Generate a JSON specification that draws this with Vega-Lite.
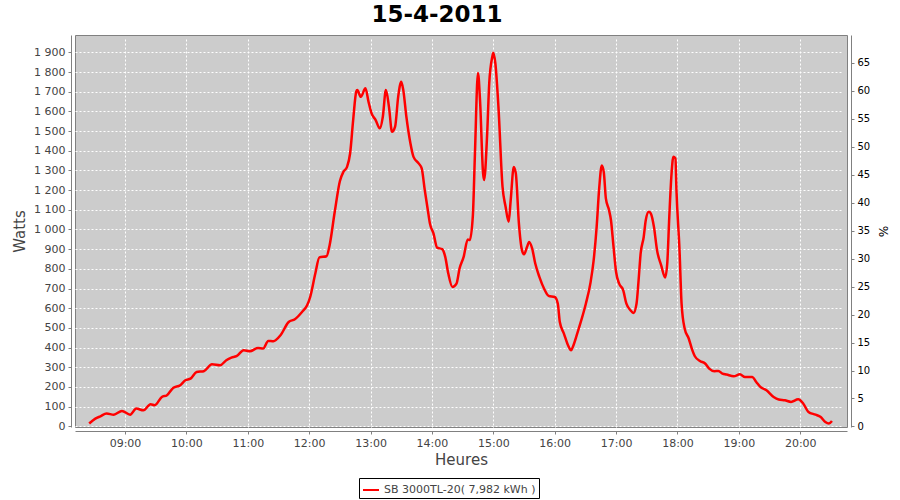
{
  "$schema": "https://vega.github.io/schema/vega-lite/v6.json",
  "width": 772,
  "height": 392,
  "autosize": "none",
  "padding": {"left": 75, "top": 35, "right": 53, "bottom": 73},
  "background": "#FFFFFF",
  "title": {"text": "15-4-2011", "fontSize": 23, "fontWeight": "bold", "color": "#000000", "font": "DejaVu Sans", "anchor": "middle", "offset": 5, "dx": -24},
  "config": {
    "font": "DejaVu Sans",
    "locale": {"number": {"decimal": ",", "thousands": " ", "grouping": [3], "currency": ["", " €"]}},
    "view": {"fill": "#CCCCCC", "stroke": "#808080", "strokeWidth": 1},
    "axis": {
      "domainColor": "#808080", "tickColor": "#808080", "labelColor": "#444444",
      "labelFontSize": 11, "titleFontSize": 15, "titleFontWeight": "normal", "titleColor": "#444444",
      "gridColor": "#FFFFFF", "gridDash": [2, 2], "gridWidth": 1, "gridOpacity": 1,
      "offset": 4, "tickSize": 3, "labelPadding": 3
    }
  },
  "layer": [
    {
      "data": {"values": [
        {"t":"2011-04-15T08:25","w":14},{"t":"2011-04-15T08:31","w":39},{"t":"2011-04-15T08:36","w":51},{"t":"2011-04-15T08:42","w":65},{"t":"2011-04-15T08:49","w":59},{"t":"2011-04-15T08:57","w":78},{"t":"2011-04-15T09:05","w":59},{"t":"2011-04-15T09:11","w":90},{"t":"2011-04-15T09:18","w":81},{"t":"2011-04-15T09:25","w":112},{"t":"2011-04-15T09:29","w":107},{"t":"2011-04-15T09:36","w":149},{"t":"2011-04-15T09:41","w":158},{"t":"2011-04-15T09:47","w":195},{"t":"2011-04-15T09:54","w":209},{"t":"2011-04-15T09:59","w":234},{"t":"2011-04-15T10:04","w":242},{"t":"2011-04-15T10:10","w":276},{"t":"2011-04-15T10:17","w":280},{"t":"2011-04-15T10:25","w":315},{"t":"2011-04-15T10:33","w":310},{"t":"2011-04-15T10:39","w":336},{"t":"2011-04-15T10:44","w":349},{"t":"2011-04-15T10:49","w":356},{"t":"2011-04-15T10:56","w":386},{"t":"2011-04-15T11:02","w":381},{"t":"2011-04-15T11:10","w":398},{"t":"2011-04-15T11:15","w":395},{"t":"2011-04-15T11:20","w":434},{"t":"2011-04-15T11:25","w":432},{"t":"2011-04-15T11:32","w":463},{"t":"2011-04-15T11:40","w":530},{"t":"2011-04-15T11:46","w":544},{"t":"2011-04-15T11:53","w":581},{"t":"2011-04-15T11:58","w":615},{"t":"2011-04-15T12:01","w":657},{"t":"2011-04-15T12:06","w":776},{"t":"2011-04-15T12:10","w":858},{"t":"2011-04-15T12:17","w":864},{"t":"2011-04-15T12:20","w":920},{"t":"2011-04-15T12:25","w":1090},{"t":"2011-04-15T12:30","w":1245},{"t":"2011-04-15T12:33:30","w":1293},{"t":"2011-04-15T12:37","w":1318},{"t":"2011-04-15T12:40","w":1386},{"t":"2011-04-15T12:43","w":1556},{"t":"2011-04-15T12:46","w":1700},{"t":"2011-04-15T12:47","w":1708},{"t":"2011-04-15T12:50:30","w":1674},{"t":"2011-04-15T12:55","w":1717},{"t":"2011-04-15T12:58","w":1649},{"t":"2011-04-15T13:01","w":1590},{"t":"2011-04-15T13:05","w":1556},{"t":"2011-04-15T13:09","w":1514},{"t":"2011-04-15T13:12","w":1573},{"t":"2011-04-15T13:15","w":1708},{"t":"2011-04-15T13:18","w":1623},{"t":"2011-04-15T13:21","w":1496},{"t":"2011-04-15T13:24","w":1522},{"t":"2011-04-15T13:27","w":1674},{"t":"2011-04-15T13:30","w":1750},{"t":"2011-04-15T13:32","w":1708},{"t":"2011-04-15T13:35","w":1573},{"t":"2011-04-15T13:39","w":1437},{"t":"2011-04-15T13:42","w":1369},{"t":"2011-04-15T13:47","w":1336},{"t":"2011-04-15T13:50","w":1310},{"t":"2011-04-15T13:53","w":1200},{"t":"2011-04-15T13:56","w":1098},{"t":"2011-04-15T13:58","w":1031},{"t":"2011-04-15T14:01:30","w":980},{"t":"2011-04-15T14:05","w":908},{"t":"2011-04-15T14:10","w":900},{"t":"2011-04-15T14:13","w":861},{"t":"2011-04-15T14:16","w":776},{"t":"2011-04-15T14:20","w":708},{"t":"2011-04-15T14:24","w":725},{"t":"2011-04-15T14:27","w":802},{"t":"2011-04-15T14:31","w":861},{"t":"2011-04-15T14:35","w":949},{"t":"2011-04-15T14:37","w":946},{"t":"2011-04-15T14:40","w":1070},{"t":"2011-04-15T14:42","w":1380},{"t":"2011-04-15T14:45","w":1795},{"t":"2011-04-15T14:47","w":1657},{"t":"2011-04-15T14:50","w":1285},{"t":"2011-04-15T14:51","w":1251},{"t":"2011-04-15T14:54","w":1488},{"t":"2011-04-15T14:56","w":1742},{"t":"2011-04-15T14:59","w":1877},{"t":"2011-04-15T15:00","w":1898},{"t":"2011-04-15T15:02","w":1844},{"t":"2011-04-15T15:05","w":1623},{"t":"2011-04-15T15:09","w":1217},{"t":"2011-04-15T15:12","w":1115},{"t":"2011-04-15T15:15","w":1039},{"t":"2011-04-15T15:17","w":1149},{"t":"2011-04-15T15:20","w":1318},{"t":"2011-04-15T15:22","w":1285},{"t":"2011-04-15T15:25","w":1031},{"t":"2011-04-15T15:28","w":895},{"t":"2011-04-15T15:30","w":874},{"t":"2011-04-15T15:33","w":912},{"t":"2011-04-15T15:35","w":937},{"t":"2011-04-15T15:38","w":903},{"t":"2011-04-15T15:41","w":827},{"t":"2011-04-15T15:45","w":759},{"t":"2011-04-15T15:50","w":695},{"t":"2011-04-15T15:54","w":663},{"t":"2011-04-15T16:00","w":657},{"t":"2011-04-15T16:03","w":624},{"t":"2011-04-15T16:05","w":530},{"t":"2011-04-15T16:09","w":471},{"t":"2011-04-15T16:13","w":412},{"t":"2011-04-15T16:16","w":386},{"t":"2011-04-15T16:18","w":407},{"t":"2011-04-15T16:22","w":471},{"t":"2011-04-15T16:26","w":539},{"t":"2011-04-15T16:30:30","w":624},{"t":"2011-04-15T16:35","w":730},{"t":"2011-04-15T16:38","w":840},{"t":"2011-04-15T16:41","w":1013},{"t":"2011-04-15T16:43:30","w":1210},{"t":"2011-04-15T16:46","w":1325},{"t":"2011-04-15T16:48","w":1290},{"t":"2011-04-15T16:50","w":1158},{"t":"2011-04-15T16:53","w":1100},{"t":"2011-04-15T16:55","w":1047},{"t":"2011-04-15T16:57:30","w":912},{"t":"2011-04-15T17:00","w":784},{"t":"2011-04-15T17:03","w":725},{"t":"2011-04-15T17:07","w":691},{"t":"2011-04-15T17:10","w":624},{"t":"2011-04-15T17:14","w":590},{"t":"2011-04-15T17:17","w":576},{"t":"2011-04-15T17:20","w":624},{"t":"2011-04-15T17:22","w":742},{"t":"2011-04-15T17:24","w":878},{"t":"2011-04-15T17:27","w":962},{"t":"2011-04-15T17:29","w":1047},{"t":"2011-04-15T17:32","w":1090},{"t":"2011-04-15T17:34","w":1081},{"t":"2011-04-15T17:37","w":1013},{"t":"2011-04-15T17:40","w":895},{"t":"2011-04-15T17:44","w":819},{"t":"2011-04-15T17:48","w":756},{"t":"2011-04-15T17:50","w":827},{"t":"2011-04-15T17:52","w":1064},{"t":"2011-04-15T17:54","w":1268},{"t":"2011-04-15T17:56","w":1369},{"t":"2011-04-15T17:58","w":1361},{"t":"2011-04-15T17:59","w":1200},{"t":"2011-04-15T18:02","w":895},{"t":"2011-04-15T18:04","w":624},{"t":"2011-04-15T18:07","w":497},{"t":"2011-04-15T18:11","w":446},{"t":"2011-04-15T18:14","w":395},{"t":"2011-04-15T18:17","w":356},{"t":"2011-04-15T18:22","w":332},{"t":"2011-04-15T18:27","w":319},{"t":"2011-04-15T18:31","w":293},{"t":"2011-04-15T18:36","w":280},{"t":"2011-04-15T18:40","w":281},{"t":"2011-04-15T18:44","w":268},{"t":"2011-04-15T18:48","w":263},{"t":"2011-04-15T18:55","w":254},{"t":"2011-04-15T19:01","w":264},{"t":"2011-04-15T19:06","w":251},{"t":"2011-04-15T19:13","w":251},{"t":"2011-04-15T19:17","w":225},{"t":"2011-04-15T19:21","w":200},{"t":"2011-04-15T19:27","w":183},{"t":"2011-04-15T19:34","w":149},{"t":"2011-04-15T19:39","w":136},{"t":"2011-04-15T19:45","w":132},{"t":"2011-04-15T19:51","w":124},{"t":"2011-04-15T19:58","w":137},{"t":"2011-04-15T20:03","w":115},{"t":"2011-04-15T20:08","w":73},{"t":"2011-04-15T20:15","w":59},{"t":"2011-04-15T20:20","w":47},{"t":"2011-04-15T20:24:30","w":22},{"t":"2011-04-15T20:28","w":14},{"t":"2011-04-15T20:31","w":27}
      ]},
      "mark": {"type": "line", "strokeWidth": 2.5, "interpolate": "monotone"},
      "encoding": {
        "x": {
          "field": "t", "type": "temporal",
          "scale": {"domain": ["2011-04-15T08:11:07", "2011-04-15T20:45:42"]},
          "axis": {"title": "Heures", "format": "%H:%M", "tickCount": 12, "labelFlush": false, "labelOverlap": false, "titlePadding": 4}
        },
        "y": {
          "field": "w", "type": "quantitative",
          "scale": {"domain": [-3.5, 1988], "nice": false, "zero": false},
          "axis": {"title": "Watts", "values": [0,100,200,300,400,500,600,700,800,900,1000,1100,1200,1300,1400,1500,1600,1700,1800,1900], "format": ",d", "titlePadding": 6}
        },
        "color": {
          "datum": "SB 3000TL-20( 7,982 kWh )",
          "type": "nominal",
          "scale": {"range": ["#FF0000"]},
          "legend": {
            "title": null, "orient": "none", "legendX": 284, "legendY": 443, "direction": "horizontal",
            "strokeColor": "#000000", "padding": 3, "symbolType": "stroke", "symbolSize": 256, "symbolStrokeWidth": 2,
            "labelFontSize": 11, "labelColor": "#444444", "labelOffset": 4, "fillColor": "#FFFFFF"
          }
        }
      }
    },
    {
      "data": {"values": [{"p": 0}, {"p": 70}]},
      "mark": {"type": "point", "opacity": 0},
      "encoding": {
        "y": {
          "field": "p", "type": "quantitative",
          "scale": {"domain": [-0.1, 70], "nice": false, "zero": false},
          "axis": {"orient": "right", "title": "%", "grid": false, "values": [0,5,10,15,20,25,30,35,40,45,50,55,60,65], "labelFontSize": 10, "labelColor": "#000000", "titleFontSize": 12, "titleColor": "#000000", "titleAngle": 90, "titlePadding": 6}
        }
      }
    }
  ],
  "resolve": {"scale": {"y": "independent"}}
}
